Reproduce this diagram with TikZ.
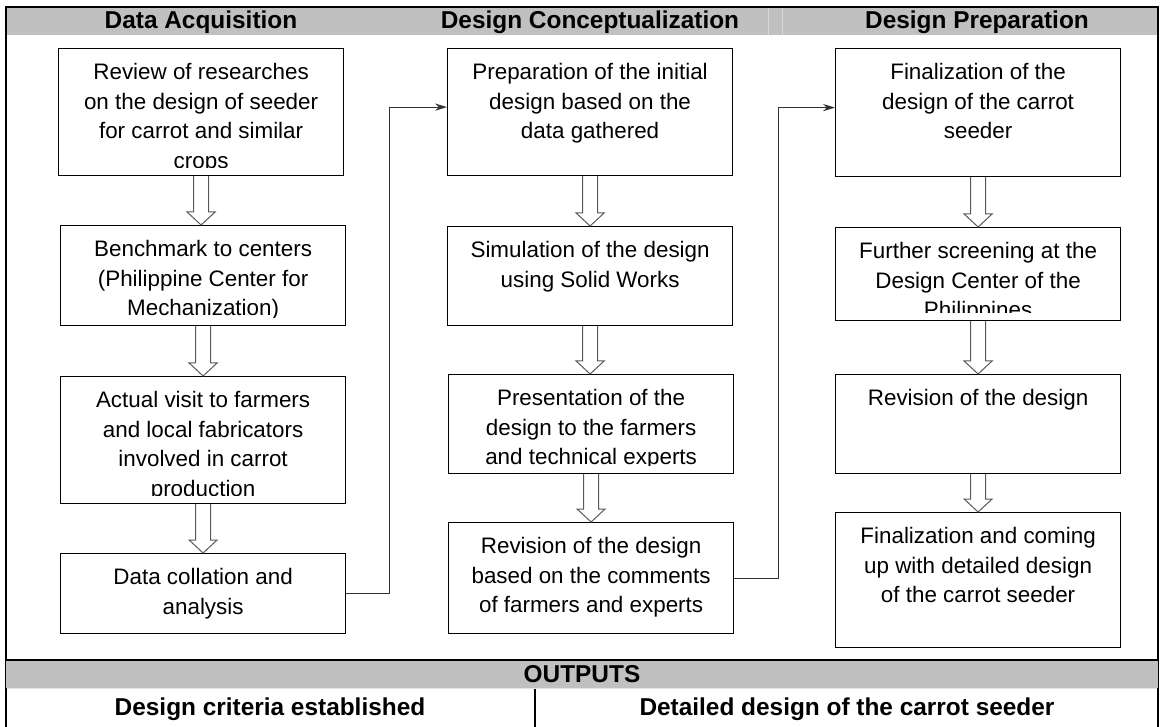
\documentclass[tikz,border=0pt]{standalone}
\usepackage{fontspec}
\setmainfont{Liberation Sans}
\usetikzlibrary{calc,arrows.meta}

\definecolor{bandgray}{RGB}{192,192,192}
\newcommand{\bodyfont}{\fontsize{11.2}{14.8}\selectfont}
\newcommand{\headfont}{\fontsize{12.2}{14}\selectfont\bfseries}

\tikzset{
  stage/.style n args={2}{draw, line width=0.6pt, rectangle, anchor=north west,
    inner sep=0pt, minimum width=142.5pt, minimum height=#1*0.5pt,
    path picture={
      % text is cut off at the inner margin, as in the original boxes
      \clip ($(path picture bounding box.south west)+(0,-8)$)
        rectangle (path picture bounding box.north east);
      \node[anchor=north, align=center, font=\bodyfont, inner sep=0pt,
        minimum width=0pt, minimum height=0pt]
        at ($(path picture bounding box.north)+(0,14)$) {#2};
    }},
  hollow/.style={draw=black!65, fill=white, line width=0.5pt},
  link/.style={draw=black!80, line width=0.5pt, -{Stealth[length=6pt,width=3.6pt]}},
  head/.style={font=\headfont, anchor=base, inner sep=0pt},
}

\begin{document}
\begin{tikzpicture}[x=0.5pt, y=-0.5pt]
  \useasboundingbox (0,0) rectangle (1163,727);

  % header band and frame
  \fill[bandgray] (6,7) rectangle (1158,35);
  \draw[white!85!black, line width=0.5pt] (768,8) -- (768,35) (782,8) -- (782,35);
  \node[head] (hA) at (201,29) {Data Acquisition};
  \node[head] (hB) at (590,29) {Design Conceptualization};
  \node[head] (hC) at (977,29) {Design Preparation};

  % data acquisition
  \node[stage={127}{Review of researches\\on the design of seeder\\for carrot and similar\\crops}] (a1) at (58,48) {};
  \node[stage={100}{Benchmark to centers\\(Philippine Center for\\Mechanization)}] (a2) at (60,225) {};
  \node[stage={127}{Actual visit to farmers\\and local fabricators\\involved in carrot\\production}] (a3) at (60,376) {};
  \node[stage={80}{Data collation and\\analysis}] (a4) at (60,553) {};

  % design conceptualization
  \node[stage={127}{Preparation of the initial\\design based on the\\data gathered}] (b1) at (447,48) {};
  \node[stage={99}{Simulation of the design\\using Solid Works}] (b2) at (447,226) {};
  \node[stage={99}{Presentation of the\\design to the farmers\\and technical experts}] (b3) at (448,374) {};
  \node[stage={111}{Revision of the design\\based on the comments\\of farmers and experts}] (b4) at (448,522) {};

  % design preparation
  \node[stage={128}{Finalization of the\\design of the carrot\\seeder}] (c1) at (835,48) {};
  \node[stage={93}{Further screening at the\\Design Center of the\\Philippines}] (c2) at (835,227) {};
  \node[stage={99}{Revision of the design}] (c3) at (835,374) {};
  \node[stage={135}{Finalization and coming\\up with detailed design\\of the carrot seeder}] (c4) at (835,512) {};

  % hollow arrows down each column
  \foreach \u/\v in {a1/a2,a2/a3,a3/a4,b1/b2,b2/b3,b3/b4,c1/c2,c2/c3,c3/c4}
    \draw[hollow] ($(\u.south)+(-7.5,0)$) -- ($(\u.south |- \v.north)+(-7.5,-13)$)
      -- ++(-6.5,0) -- (\u.south |- \v.north) -- ($(\u.south |- \v.north)+(14,-13)$)
      -- ++(-6.5,0) -- ($(\u.south)+(7.5,0)$);

  % links between columns
  \draw[link] (a4.east) -- ++(43,0) |- ($(b1.west)+(0,-5)$);
  \draw[link] (b4.east) -- ++(44,0) |- ($(c1.west)+(0,-5)$);

  % frame
  \draw[line width=1.3pt] (6,727) -- (6,7) -- (1158,7) -- (1158,727);

  % outputs
  \fill[bandgray] (6,660) rectangle (1158,688);
  \draw[line width=1.3pt] (6,660) -- (1158,660);
  \draw[white!90!black, line width=0.5pt] (7,688) -- (1157,688);
  \node[head] (out) at (582,682) {OUTPUTS};
  \draw[line width=0.6pt] (535,689) -- (535,727);
  \node[head] (o1) at (270,715) {Design criteria established};
  \node[head] (o2) at (847,715) {Detailed design of the carrot seeder};
\end{tikzpicture}
\end{document}
